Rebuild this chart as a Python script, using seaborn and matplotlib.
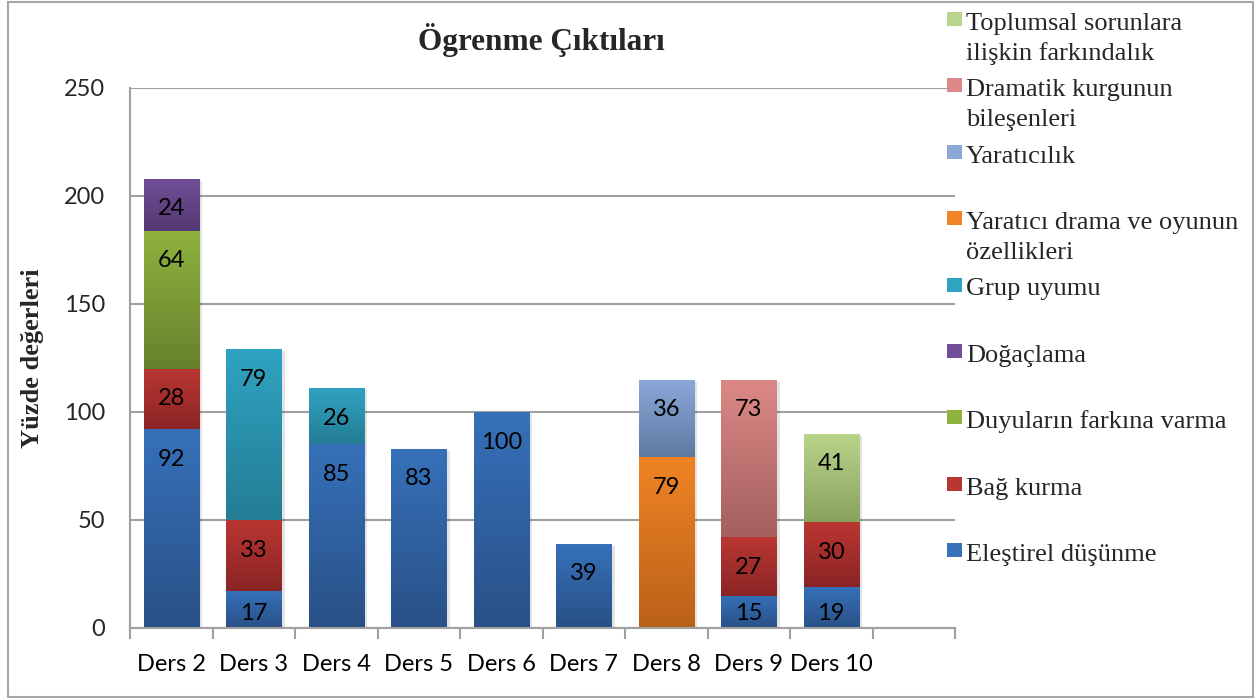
import numpy as np
import matplotlib
matplotlib.use("Agg")
import matplotlib.pyplot as plt
import seaborn as sns
from matplotlib.colors import LinearSegmentedColormap
from matplotlib.patches import Rectangle
import matplotlib.patheffects as pe

# ---------------- data ----------------
categories = ["Ders 2", "Ders 3", "Ders 4", "Ders 5", "Ders 6", "Ders 7", "Ders 8", "Ders 9", "Ders 10"]
series_names = [
    "Eleştirel düşünme",
    "Bağ kurma",
    "Duyuların farkına varma",
    "Doğaçlama",
    "Grup uyumu",
    "Yaratıcı drama ve oyunun özellikleri",
    "Yaratıcılık",
    "Dramatik kurgunun bileşenleri",
    "Toplumsal sorunlara ilişkin farkındalık",
]
legend_labels = [
    ["Eleştirel düşünme"],
    ["Bağ kurma"],
    ["Duyuların farkına varma"],
    ["Doğaçlama"],
    ["Grup uyumu"],
    ["Yaratıcı drama ve oyunun", "özellikleri"],
    ["Yaratıcılık"],
    ["Dramatik kurgunun", "bileşenleri"],
    ["Toplumsal sorunlara", "ilişkin farkındalık"],
]
elestirel = [92, 17, 85, 83, 100, 39, 0, 15, 19]
bag_kurma = [28, 33, 0, 0, 0, 0, 0, 27, 30]
duyular = [64, 0, 0, 0, 0, 0, 0, 0, 0]
dogaclama = [24, 0, 0, 0, 0, 0, 0, 0, 0]
grup_uyumu = [0, 79, 26, 0, 0, 0, 0, 0, 0]
yaratici_drama = [0, 0, 0, 0, 0, 0, 79, 0, 0]
yaraticilik = [0, 0, 0, 0, 0, 0, 36, 0, 0]
dramatik = [0, 0, 0, 0, 0, 0, 0, 73, 0]
toplumsal = [0, 0, 0, 0, 0, 0, 0, 0, 41]
series_values = [elestirel, bag_kurma, duyular, dogaclama, grup_uyumu,
                 yaratici_drama, yaraticilik, dramatik, toplumsal]
y_ticks = [0, 50, 100, 150, 200, 250]

# gradient colours (top, bottom)
grad_colors = [
    ("#3671BA", "#295086"),
    ("#BA3632", "#8A2525"),
    ("#8FB33F", "#66812C"),
    ("#714F98", "#523870"),
    ("#30A3C2", "#237D94"),
    ("#F08424", "#BA6119"),
    ("#8AA8D8", "#5F79A2"),
    ("#DC8886", "#A3605E"),
    ("#B9D58B", "#88A260"),
]

# ---------------- figure ----------------
sns.set_theme(style="white")
plt.rcParams["font.family"] = ["Lato", "DejaVu Sans"]

W, H = 1260, 698
fig = plt.figure(figsize=(W / 100, H / 100), dpi=100)
ax = fig.add_axes([130 / W, (H - 628) / H, (955 - 130) / W, (628 - 88) / H])

bottoms = np.zeros(len(categories))
for name, vals, (ctop, cbot) in zip(series_names, series_values, grad_colors):
    sns.barplot(x=categories, y=vals, order=categories, bottom=bottoms.copy(),
                color=ctop, width=0.67, ax=ax, saturation=1, linewidth=0, zorder=2)
    bottoms = bottoms + np.array(vals)

# gradients + shadows + labels
for cont, vals, (ctop, cbot) in zip(ax.containers, series_values, grad_colors):
    cmap = LinearSegmentedColormap.from_list("g", [cbot, ctop])
    for p, v in zip(cont.patches, vals):
        h = p.get_height()
        if h <= 0:
            p.set_visible(False)
            continue
        x0, y0, w = p.get_x(), p.get_y(), p.get_width()
        p.set_path_effects([pe.SimplePatchShadow(offset=(2.5, -1.5), alpha=0.12, shadow_rgbFace="k"),
                            pe.Normal()])
        grad = np.linspace(0, 1, 256).reshape(-1, 1)
        im = ax.imshow(grad, extent=[x0, x0 + w, y0, y0 + h], origin="lower",
                       aspect="auto", cmap=cmap, zorder=2.5, interpolation="bilinear")
        im.set_clip_path(p)
        ty = max(y0 + h - 13.9, y0 + min(6.5, h / 2))
        ax.text(x0 + w / 2, ty, str(v), ha="center", va="center",
                fontsize=17, color="black", zorder=5, family=["Lato", "DejaVu Sans"])

ax.set_xlim(-0.5, 9.5)
ax.set_ylim(0, 250)
ax.set_yticks(y_ticks)
ax.set_yticklabels([str(t) for t in y_ticks], fontsize=17)
ax.set_xticks(range(len(categories)))
ax.set_xticklabels(categories, fontsize=17)
ax.set_xticks(np.arange(-0.5, 10.0, 1.0), minor=True)
ax.tick_params(axis="x", which="major", length=0, pad=19, colors="black")
ax.tick_params(axis="x", which="minor", length=8, width=1.5, color="#A0A0A0", direction="out", bottom=True)
ax.tick_params(axis="y", which="both", length=0, pad=18)
ax.set_xlabel("")
ax.set_ylabel("")

ax.yaxis.grid(True, color="#A0A0A0", linewidth=1.5, zorder=0)
ax.xaxis.grid(False)
ax.set_axisbelow(True)
for s in ["top", "right"]:
    ax.spines[s].set_visible(False)
for s in ["left", "bottom"]:
    ax.spines[s].set_color("#A0A0A0")
    ax.spines[s].set_linewidth(1.5)

# title & y label
fig.text(541 / W, 1 - 40 / H, "Ögrenme Çıktıları", ha="center", va="center",
         fontsize=22.5, fontweight="bold", family=["Liberation Serif", "DejaVu Serif"])
fig.text(33 / W, 1 - 358 / H, "Yüzde değerleri", ha="center", va="center", rotation=90,
         fontsize=19, fontweight="bold", family=["Liberation Serif", "DejaVu Serif"])

# legend (manual, Excel style): first-line baselines in pixels from top
n_leg = len(legend_labels)
baselines = [561 - k * (561 - 30) / (n_leg - 1) for k in range(n_leg)]
for lines, (ctop, cbot), bl in zip(legend_labels, grad_colors, baselines):
    fig.patches.append(Rectangle((947 / W, 1 - (bl - 4) / H), 15 / W, 14 / H,
                                 transform=fig.transFigure, facecolor=ctop, edgecolor="none"))
    for i, line in enumerate(lines):
        fig.text(966 / W, 1 - (bl + 30 * i) / H, line, ha="left", va="baseline",
                 fontsize=19, family=["Liberation Serif", "DejaVu Serif"])

# outer border
fig.patches.append(Rectangle((8 / W, 1 / H), (1253 - 8) / W, (696 - 1) / H,
                             transform=fig.transFigure, facecolor="none",
                             edgecolor="#A6A6A6", linewidth=1.5))

fig.savefig("out.png", dpi=100)
